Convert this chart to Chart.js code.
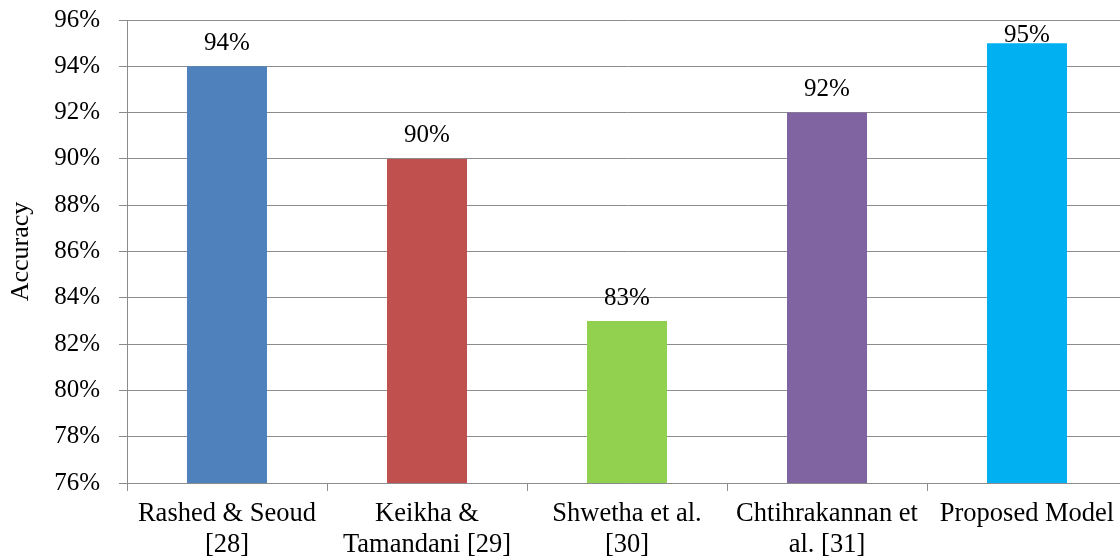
<!DOCTYPE html>
<html>
<head>
<meta charset="utf-8">
<script src="https://cdn.jsdelivr.net/npm/chart.js@4/dist/chart.umd.min.js"></script>
<style>
  html, body { margin: 0; padding: 0; background: #fff; overflow: hidden; }
  #wrap { width: 1120px; height: 559px; overflow: hidden; }
  canvas { display: block; }
</style>
</head>
<body>
<div id="wrap"><canvas id="chart" width="1127" height="559"></canvas></div>
<script>
// Categories (multi-line labels) and accuracy values in percent
const categories = [
  ['Rashed & Seoud', '[28]'],
  ['Keikha &', 'Tamandani [29]'],
  ['Shwetha et al.', '[30]'],
  ['Chtihrakannan et', 'al. [31]'],
  ['Proposed Model']
];
const accuracy = [94, 90, 83, 92, 95];
const barColors = ['#4F81BD', '#C0504D', '#92D050', '#8064A2', '#00B0F0'];
const yMin = 76, yMax = 96, yStep = 2;

const FONT = 'Liberation Serif, "Times New Roman", serif';
const GRID = '#8c8c8c';

// Value labels above each bar, kept inside the plot area
const valueLabels = {
  id: 'valueLabels',
  afterDatasetsDraw(chart) {
    const ctx = chart.ctx;
    const meta = chart.getDatasetMeta(0);
    ctx.save();
    ctx.font = '25px ' + FONT;
    ctx.fillStyle = '#000';
    ctx.textAlign = 'center';
    ctx.textBaseline = 'middle';
    meta.data.forEach((bar, i) => {
      const y = Math.max(bar.y - 23, chart.chartArea.top + 15);
      ctx.fillText(accuracy[i] + '%', bar.x, y);
    });
    ctx.restore();
  }
};

new Chart(document.getElementById('chart'), {
  type: 'bar',
  data: {
    labels: categories,
    datasets: [{
      data: accuracy,
      backgroundColor: barColors,
      borderWidth: 0,
      barPercentage: 0.4,
      categoryPercentage: 1.0
    }]
  },
  options: {
    responsive: false,
    animation: false,
    devicePixelRatio: 1,
    layout: { padding: { top: 20, left: 0, right: 0, bottom: 0 } },
    plugins: {
      legend: { display: false },
      tooltip: { enabled: false }
    },
    scales: {
      x: {
        grid: {
          offset: true,
          drawOnChartArea: false,
          drawTicks: true,
          tickLength: 8,
          color: GRID,
          lineWidth: 1
        },
        border: { color: GRID, width: 1 },
        ticks: {
          color: '#000',
          font: { family: FONT, size: 26.5, lineHeight: '31px' },
          padding: 8,
          maxRotation: 0,
          autoSkip: false
        },
        afterFit(scale) {
          scale.height = 76;
          scale.paddingLeft = 0;
          scale.paddingRight = 0;
        }
      },
      y: {
        min: yMin,
        max: yMax,
        grid: {
          color: GRID,
          lineWidth: 1,
          drawTicks: true,
          tickLength: 8
        },
        border: { color: GRID, width: 1 },
        ticks: {
          stepSize: yStep,
          color: '#000',
          font: { family: FONT, size: 25 },
          padding: 19,
          callback: v => v + '%'
        },
        title: {
          display: true,
          text: 'Accuracy',
          color: '#000',
          font: { family: FONT, size: 26 },
          padding: { top: 6, bottom: 0 }
        },
        afterFit(scale) {
          scale.width = 127;
          scale.paddingTop = 0;
          scale.paddingBottom = 0;
        }
      }
    }
  },
  plugins: [valueLabels]
});
</script>
</body>
</html>
